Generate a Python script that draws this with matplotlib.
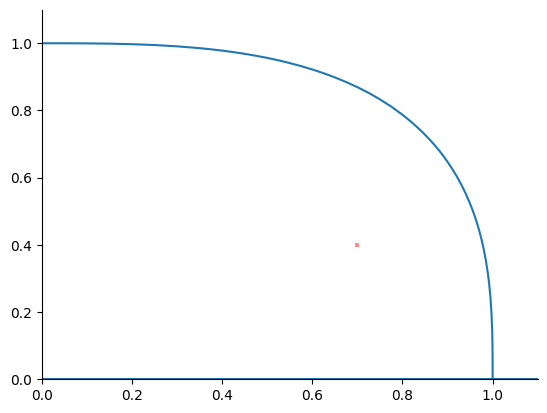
import numpy as np
import matplotlib.pyplot as plt

# points
curve_x = [0.0, 0.05, 0.1, 0.15, 0.2, 0.25, 0.3, 0.35, 0.375, 0.4, 0.425, 0.45, 0.475,
           0.5, 0.525, 0.55, 0.575, 0.6, 0.625, 0.65, 0.675, 0.7, 0.725, 0.75, 0.775,
           0.8, 0.82, 0.84, 0.85, 0.86, 0.87, 0.88, 0.89, 0.9, 0.91, 0.92, 0.93, 0.94,
           0.95, 0.955, 0.96, 0.965, 0.97, 0.975, 0.98, 0.985, 0.99, 0.9925, 0.995,
           0.9975, 0.999, 0.9995, 0.9999, 0.99999, 1.0]
curve_y = [1.0, 1.0, 0.9997, 0.9989, 0.9973, 0.9948, 0.9909, 0.9855, 0.9821, 0.9782,
           0.9737, 0.9686, 0.9629, 0.9565, 0.9493, 0.9411, 0.9321, 0.9221, 0.9110,
           0.8985, 0.8847, 0.8695, 0.8524, 0.8331, 0.8117, 0.7873, 0.7655, 0.7412,
           0.7279, 0.7139, 0.6989, 0.6830, 0.6659, 0.6471, 0.6270, 0.6050, 0.5806,
           0.5535, 0.5225, 0.5053, 0.4866, 0.4662, 0.4435, 0.4183, 0.3889, 0.3539,
           0.3097, 0.2816, 0.2461, 0.1956, 0.1442, 0.1145, 0.0669, 0.0311, 0.0]
point_x = [0.7]
point_y = [0.4]

fig, ax = plt.subplots(figsize=(6.4, 4.8), dpi=100)
ax.plot(curve_x, curve_y, color='C0')
ax.axhline(0, color='C0')
ax.plot(point_x, point_y, 's', color='red', alpha=0.45, markersize=3, markeredgewidth=0)
ax.set_xlim(0, 1.1)
ax.set_ylim(0, 1.1)
ax.spines['top'].set_visible(False)
ax.spines['right'].set_visible(False)
fig.savefig('out.png', bbox_inches='tight')
